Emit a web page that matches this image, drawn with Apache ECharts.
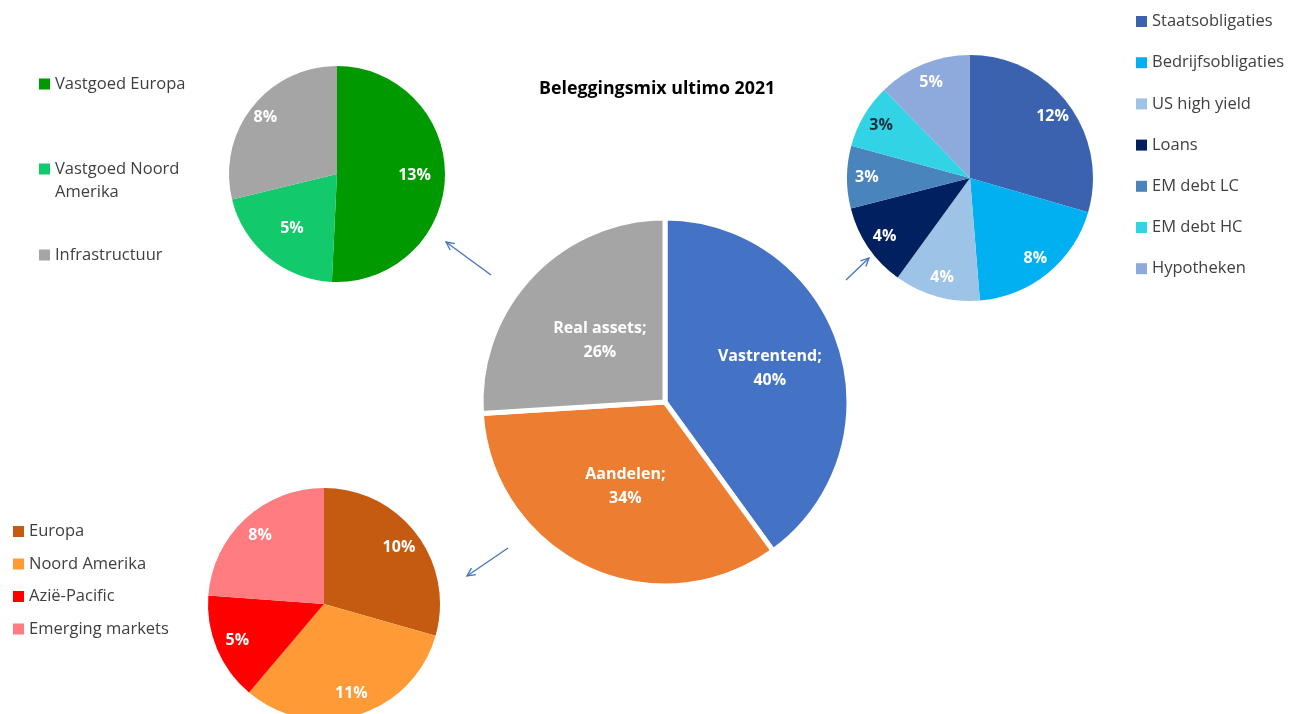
<!DOCTYPE html>
<html><head><meta charset="utf-8">
<script src="https://cdn.jsdelivr.net/npm/echarts@6/dist/echarts.min.js"></script>
<style>html,body{margin:0;padding:0;background:#fff}#c{width:1299px;height:714px}</style>
</head><body><div id="c"></div>
<script>
const chartTitle = 'Beleggingsmix ultimo 2021';
const mainNames = ['Vastrentend', 'Aandelen', 'Real assets'];
const mainValues = [40, 34, 26];
const mainColors = ['#4472C4', '#ED7D31', '#A5A5A5'];

const realNames = ['Vastgoed Europa', 'Vastgoed Noord Amerika', 'Infrastructuur'];
const realValues = [13.4, 5.4, 7.6];
const realColors = ['#009A00', '#12C96B', '#A5A5A5'];

const fixedNames = ['Staatsobligaties', 'Bedrijfsobligaties', 'US high yield', 'Loans', 'EM debt LC', 'EM debt HC', 'Hypotheken'];
const fixedValues = [11.5, 7.5, 4.4, 4.3, 3.2, 3.3, 4.8];
const fixedColors = ['#3B62AE', '#00B0F0', '#9DC3E6', '#002060', '#4A84BC', '#33D3E6', '#8EA9DB'];

const equityNames = ['Europa', 'Noord Amerika', 'Azië-Pacific', 'Emerging markets'];
const equityValues = [10, 10.8, 5.1, 8.1];
const equityColors = ['#C55A11', '#FF9B37', '#FF0000', '#FF7C80'];

const FONT = 'Open Sans';
const chart = echarts.init(document.getElementById('c'), null, {renderer: 'canvas'});

function makeData(names, values, colors, darkLabel) {
  return names.map((n, i) => {
    const d = {name: n, value: values[i], itemStyle: {color: colors[i]}};
    if (darkLabel && darkLabel.indexOf(n) >= 0) d.label = {color: '#14303A'};
    return d;
  });
}
// place inside labels at a chosen fraction of the radius (ECharts default is 0.5)
function radialLayout(center, factor) {
  return function (p) {
    const r = p.labelRect;
    const lx = r.x + r.width / 2, ly = r.y + r.height / 2;
    const f = Array.isArray(factor) ? factor[p.dataIndex] : factor;
    const k = f / 0.5;
    return {x: center[0] + (lx - center[0]) * k, y: center[1] + (ly - center[1]) * k};
  };
}
const pctLabel = {
  show: true, position: 'inside', color: '#fff', fontFamily: FONT, fontWeight: 'bold', fontSize: 16,
  formatter: p => Math.round(p.value) + '%'
};

const cMain = [665, 402], cReal = [337, 174], cFixed = [970, 178], cEq = [324, 604];

function arrow(x1, y1, x2, y2) {
  const ang = Math.atan2(y2 - y1, x2 - x1), L = 9, a = 0.45;
  const p1 = [x2 - L * Math.cos(ang - a), y2 - L * Math.sin(ang - a)];
  const p2 = [x2 - L * Math.cos(ang + a), y2 - L * Math.sin(ang + a)];
  const st = {stroke: '#4472C4', lineWidth: 1.3, fill: null};
  return [
    {type: 'line', shape: {x1, y1, x2, y2}, style: st, silent: true},
    {type: 'polyline', shape: {points: [p1, [x2, y2], p2]}, style: st, silent: true}
  ];
}

const legendText = {fontFamily: FONT, fontSize: 16.5, color: '#404040', lineHeight: 18};

chart.setOption({
  animation: false,
  backgroundColor: '#fff',
  textStyle: {fontFamily: FONT},
  title: {
    text: chartTitle, left: 539, top: 79, padding: 0,
    textStyle: {fontFamily: FONT, fontWeight: 'bold', fontSize: 17.8, color: '#000', lineHeight: 20}
  },
  legend: [
    {data: [realNames[0]], left: 39, top: 75, padding: 0, itemWidth: 11, itemHeight: 11, icon: 'rect', textStyle: legendText},
    {data: [realNames[1]], left: 39, top: 134.5, padding: 0, itemWidth: 11, itemHeight: 11, icon: 'rect',
      formatter: n => '\n' + n,
      textStyle: Object.assign({}, legendText, {lineHeight: 23, width: 140, overflow: 'break'})},
    {data: [realNames[2]], left: 39, top: 246, padding: 0, itemWidth: 11, itemHeight: 11, icon: 'rect', textStyle: legendText},
    {data: fixedNames, orient: 'vertical', left: 1136, top: 12.5, padding: 0, itemGap: 23.2, itemWidth: 11, itemHeight: 11, icon: 'rect', textStyle: legendText},
    {data: equityNames, orient: 'vertical', left: 13, top: 522.5, padding: 0, itemGap: 14.5, itemWidth: 11, itemHeight: 11, icon: 'rect', textStyle: legendText}
  ],
  graphic: [].concat(
    arrow(491, 275, 446, 242),
    arrow(846, 280, 869, 258),
    arrow(508, 548, 467, 576)
  ),
  series: [
    {
      type: 'pie', center: cMain, radius: [0, 184], startAngle: 90, clockwise: true,
      data: makeData(mainNames, mainValues, mainColors),
      itemStyle: {borderColor: '#fff', borderWidth: 5},
      label: {show: true, position: 'inside', color: '#fff', fontFamily: FONT, fontWeight: 'bold', fontSize: 16, lineHeight: 24,
        formatter: p => p.name + ';\n' + Math.round(p.value) + '%'},
      labelLayout: radialLayout(cMain, [0.58, 0.49, 0.47]),
      emphasis: {disabled: true}
    },
    {
      type: 'pie', center: cReal, radius: [0, 108], startAngle: 90,
      data: makeData(realNames, realValues, realColors),
      label: pctLabel, labelLayout: radialLayout(cReal, [0.68, 0.62, 0.8]), emphasis: {disabled: true}
    },
    {
      type: 'pie', center: cFixed, radius: [0, 123], startAngle: 90,
      data: makeData(fixedNames, fixedValues, fixedColors, ['EM debt HC']),
      label: pctLabel, labelLayout: radialLayout(cFixed, 0.8), emphasis: {disabled: true}
    },
    {
      type: 'pie', center: cEq, radius: [0, 116], startAngle: 90,
      data: makeData(equityNames, equityValues, equityColors),
      label: pctLabel, labelLayout: radialLayout(cEq, 0.77), emphasis: {disabled: true}
    }
  ]
});
</script></body></html>
